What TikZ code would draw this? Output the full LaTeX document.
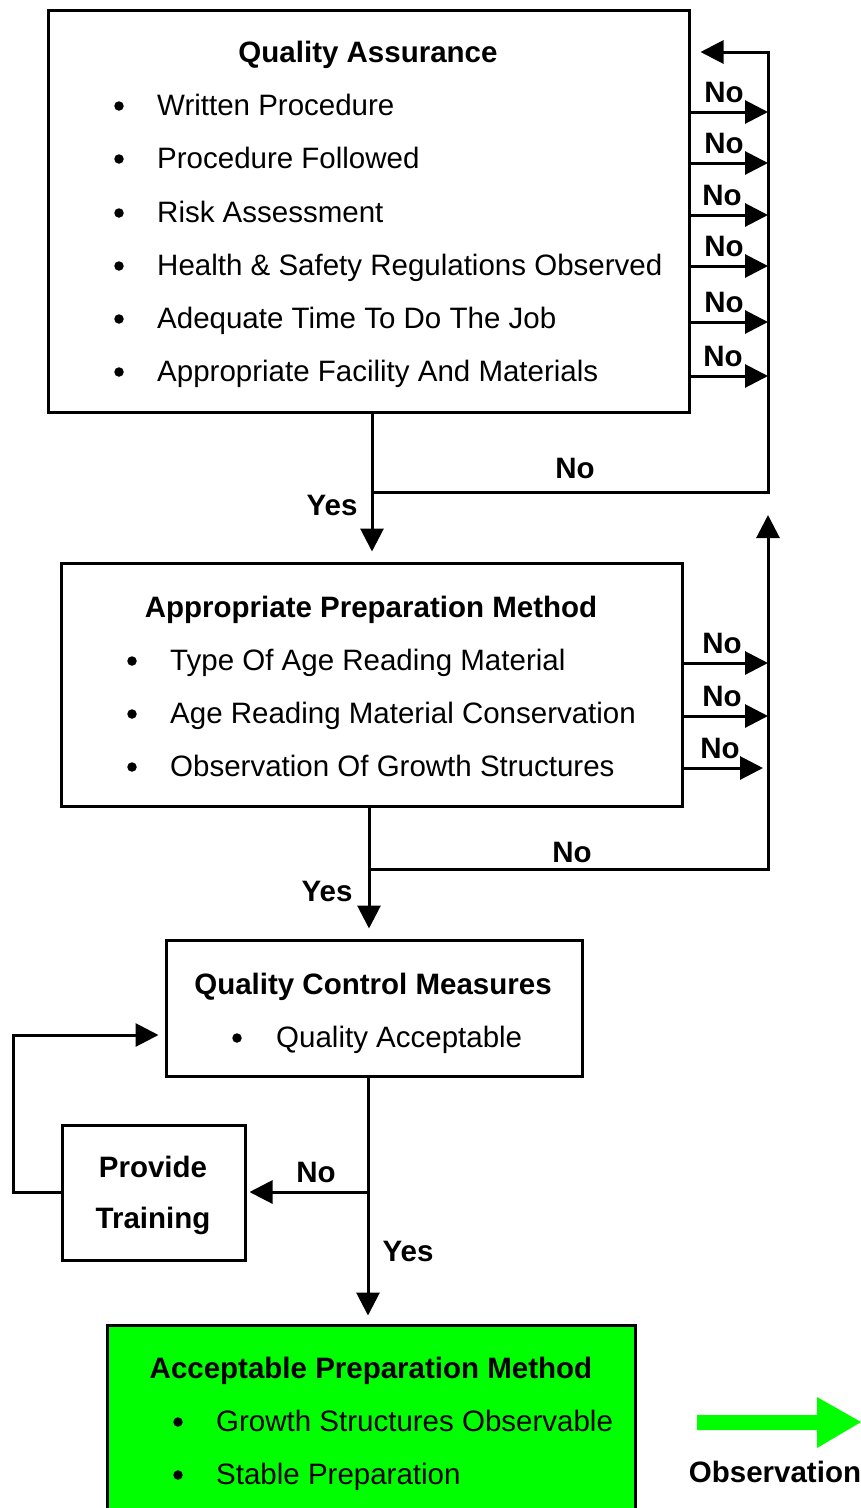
\documentclass[tikz,border=0pt]{standalone}
\usepackage{fontspec}
\setmainfont{Liberation Sans}
\usetikzlibrary{arrows.meta}
\definecolor{brightgreen}{HTML}{00FF00}
\begin{document}
\begin{tikzpicture}[x=1pt,y=-1pt,
 box/.style={draw, line width=3pt, inner sep=0pt, fill=white},
 conn/.style={line width=3pt},
 arr/.style={line width=3pt, -{Triangle[length=23pt,width=23pt]}},
 txt/.style={font=\fontsize{29.5}{35}\selectfont, inner sep=0pt, anchor=base west},
 ttl/.style={font=\fontsize{29.5}{35}\selectfont\bfseries, inner sep=0pt, anchor=base},
 lbl/.style={font=\fontsize{29.5}{35}\selectfont\bfseries, inner sep=0pt, anchor=base},
 bul/.style={circle, fill=black, inner sep=0pt, minimum size=9.5pt},
]
\clip (0,0) rectangle (861,1508);

% ---------- boxes ----------
\node[box, minimum width=641pt, minimum height=402pt] (qa) at (368.5,211) {};
\node[box, minimum width=621pt, minimum height=243pt] (apm) at (371.5,684.5) {};
\node[box, minimum width=416pt, minimum height=136pt] (qc) at (374,1008) {};
\node[box, minimum width=183pt, minimum height=135pt] (pt) at (153.5,1192.5) {};
\node[box, fill=brightgreen, minimum width=528pt, minimum height=205pt] (acc) at (371,1427.5) {};

% ---------- box 1 text ----------
\node[ttl] (t1) at (368,62) {Quality Assurance};
\foreach \i/\y/\t in {1/115/Written Procedure,2/168/Procedure Followed,3/222/Risk Assessment,4/275/Health \& Safety Regulations Observed,5/328/Adequate Time To Do The Job,6/381/Appropriate Facility And Materials}{
  \node[bul] (qab\i) at (119,\y-9) {};
  \node[txt] (qat\i) at (157,\y) {\t};
}

% ---------- box 2 text ----------
\node[ttl] (t2) at (371,617) {Appropriate Preparation Method};
\foreach \i/\y/\t in {1/670/Type Of Age Reading Material,2/723/Age Reading Material Conservation,3/776/Observation Of Growth Structures}{
  \node[bul] (apb\i) at (132,\y-9) {};
  \node[txt] (apt\i) at (170,\y) {\t};
}

% ---------- box 3 text ----------
\node[ttl] (t3) at (373,994) {Quality Control Measures};
\node[bul] (qcb1) at (237,1038) {};
\node[txt] (qct1) at (276,1047) {Quality Acceptable};

% ---------- provide training ----------
\node[ttl] (pt1) at (153,1177) {Provide};
\node[ttl] (pt2) at (153,1228) {Training};

% ---------- box 4 text ----------
\node[ttl] (t4) at (371,1378) {Acceptable Preparation Method};
\foreach \i/\y/\t in {1/1431/Growth Structures Observable,2/1484/Stable Preparation}{
  \node[bul] (acb\i) at (178,\y-9) {};
  \node[txt] (act\i) at (216,\y) {\t};
}

% ---------- right loop for box 1 ----------
\coordinate (rtop) at (768,52);
\coordinate (j1) at (372,492);
\coordinate (rj1) at (768,492);
\draw[arr, shorten >=10pt] (j1) -- (rj1) -- (rtop) -- (qa.east |- rtop);
\foreach \i/\y/\ly/\lx in {1/112/102/724,2/163/153/724,3/215/205/722,4/266/256/724,5/322/312/724,6/376/366/723}{
  \coordinate (qr\i) at (768,\y);
  \draw[arr] (qa.east |- qr\i) -- (qr\i);
  \node[lbl] (qano\i) at (\lx,\ly) {No};
}
\draw[arr, shorten >=10pt] (qa.south -| j1) -- (apm.north -| j1);
\node[lbl] (no1) at (575,478) {No};
\node[lbl] (yes1) at (332,515) {Yes};

% ---------- right loop for box 2 ----------
\coordinate (j2) at (369,869);
\coordinate (rj2) at (768,869);
\coordinate (uptip) at (768,515);
\draw[arr] (j2) -- (rj2) -- (uptip);
\foreach \i/\y/\tx/\ly/\lx in {1/663/768/653/722,2/716/768/706/722,3/768/763/758/720}{
  \coordinate (ar\i) at (\tx,\y);
  \draw[arr] (apm.east |- ar\i) -- (ar\i);
  \node[lbl] (apno\i) at (\lx,\ly) {No};
}
\draw[arr, shorten >=10pt] (apm.south -| j2) -- (qc.north -| j2);
\node[lbl] (no2) at (572,862) {No};
\node[lbl] (yes2) at (327,901) {Yes};

% ---------- box 3 connections ----------
\coordinate (j3) at (368,1192);
\draw[arr, shorten >=8pt] (qc.south -| j3) -- (acc.north -| j3);
\draw[arr, shorten >=3pt] (j3) -- (pt.east |- j3);
\coordinate (lb) at (13,1192);
\coordinate (lt) at (13,1035);
\draw[arr, shorten >=6pt] (pt.west |- lb) -- (lb) -- (lt) -- (qc.west |- lt);
\node[lbl] (no3) at (316,1182) {No};
\node[lbl] (yes3) at (408,1261) {Yes};

% ---------- observation arrow ----------
\fill[brightgreen] (697,1415) -- (817,1415) -- (817,1397) -- (861,1422) -- (817,1448) -- (817,1430) -- (697,1430) -- cycle;
\node[lbl] (obs) at (775,1482) {Observation};
\end{tikzpicture}
\end{document}
